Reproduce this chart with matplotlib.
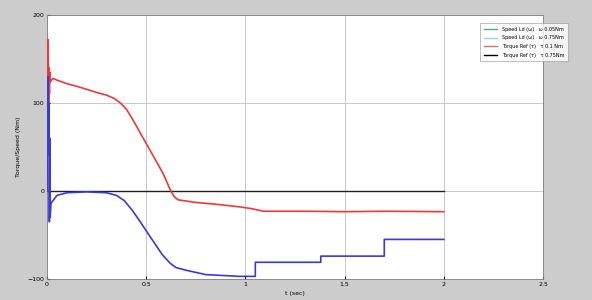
import numpy as np
import matplotlib
matplotlib.use('Agg')
import matplotlib.pyplot as plt
from matplotlib.lines import Line2D

# torque response (red)
t_red = [0, 0.002, 0.004, 0.006, 0.008, 0.010, 0.012, 0.014, 0.016, 0.03, 0.05, 0.1,
         0.165, 0.25, 0.30, 0.34, 0.37, 0.40, 0.43, 0.47, 0.53, 0.585, 0.62, 0.64,
         0.66, 0.75, 0.85, 0.97, 1.03, 1.09, 1.3, 1.5, 1.7, 2.0]
y_red = [0, 150, 40, 172, 90, 140, 110, 135, 124, 128, 126, 122,
         118, 112, 109, 105, 100, 93, 82, 66, 42, 20, 2, -6,
         -10, -13, -15, -18, -20, -23, -23, -23.5, -23, -23.5]

# speed response (blue)
t_blue = [0, 0.002, 0.004, 0.006, 0.008, 0.010, 0.012, 0.014, 0.016, 0.02, 0.05, 0.1,
          0.2, 0.30, 0.35, 0.39, 0.43, 0.47, 0.52, 0.58, 0.62, 0.65, 0.70, 0.8,
          0.97, 1.05, 1.05, 1.38, 1.38, 1.70, 1.70, 2.0]
y_blue = [0, 120, 50, 130, 45, 100, -35, 60, -30, -14, -5, -2,
          -1, -2, -5, -11, -22, -35, -52, -72, -82, -87, -90, -95,
          -97, -97, -81, -81, -74, -74, -55, -55]

# reference line (black)
t_ref = [0, 2.0]
y_ref = [0, 0]

legend_labels = ['Speed Ld (ω)   ω 0.05Nm', 'Speed Ld (ω)   ω 0.75Nm',
                 'Torque Ref (τ)   τ 0.1 Nm', 'Torque Ref (τ)   τ 0.75Nm']
legend_colors = ['#50b080', '#80e0d0', '#d07070', '#000000']

fig = plt.figure(figsize=(5.92, 3.0), dpi=100)
fig.patch.set_facecolor('#cccccc')
ax = fig.add_axes([0.0794, 0.07, 0.8378, 0.88])
ax.set_facecolor('white')

ax.plot(t_ref, y_ref, color='#202020', linewidth=1.0, zorder=3)
ax.plot(t_red, y_red, color='#ee3838', linewidth=1.2, zorder=4)
ax.plot(t_blue, y_blue, color='#3a3ad8', linewidth=1.2, zorder=5)

ax.set_xlim(0, 2.5)
ax.set_ylim(-100, 200)
ax.set_xticks([0, 0.5, 1, 1.5, 2, 2.5])
ax.set_xticklabels(['0', '0.5', '1', '1.5', '2', '2.5'])
ax.set_yticks([-100, 0, 100, 200])
ax.tick_params(labelsize=4.5, length=2, direction='in', pad=2)
ax.grid(True, color='#c8c8c8', linewidth=0.7)
ax.set_axisbelow(True)
for s in ax.spines.values():
  s.set_color('#808080')
  s.set_linewidth(0.6)

ax.set_xlabel('t (sec)', fontsize=4.5, labelpad=3)
ax.set_ylabel('Torque/Speed (Nm)', fontsize=4.5, labelpad=10)
ax.yaxis.set_label_coords(-0.052, 0.5)

#legend sits partly outside the axes, like the original
handles = [Line2D([0], [0], color=c, linewidth=1.0) for c in legend_colors]
leg = fig.legend(handles, legend_labels, loc='upper left', fontsize=3.5,
                 frameon=True, fancybox=False, edgecolor='#909090',
                 bbox_to_anchor=(478 / 592, 1 - 21 / 300), handlelength=2.8,
                 labelspacing=0.75, borderpad=0.7, handletextpad=1.0)
leg.get_frame().set_linewidth(0.5)

plt.savefig('out.png', dpi=100, facecolor=fig.get_facecolor())
